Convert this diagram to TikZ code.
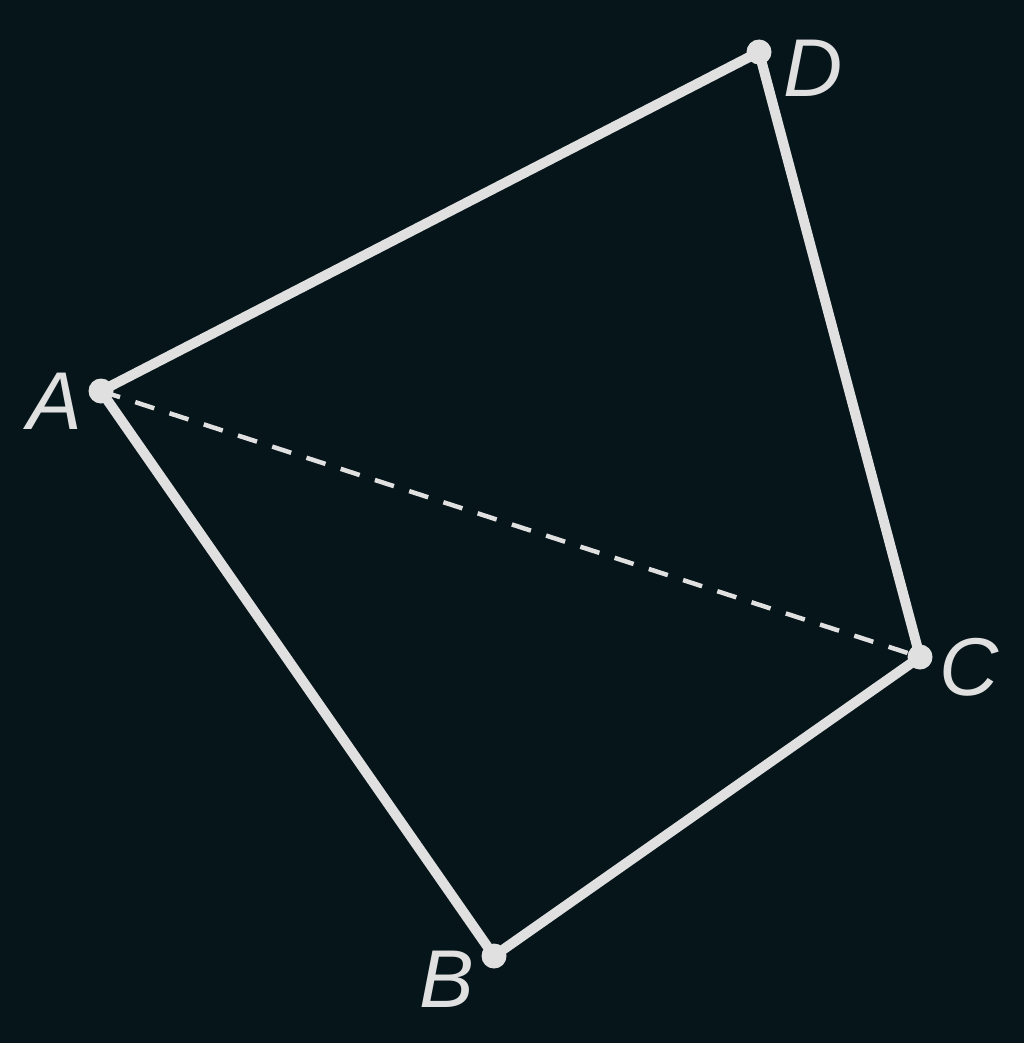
\documentclass[tikz,border=0pt]{standalone}
\usepackage{fontspec}
\setmainfont{Liberation Sans}
\definecolor{bg}{HTML}{06151A}
\definecolor{fg}{HTML}{E0E0E0}
\begin{document}
\begin{tikzpicture}[x=1pt,y=-1pt,
  edge/.style={draw=fg,line width=10pt,line cap=round,line join=round},
  hid/.style={draw=fg,line width=4.5pt,dash pattern=on 20pt off 16pt},
  pt/.style={circle,fill=fg,inner sep=0pt,minimum size=25pt},
  lab/.style={text=fg,font=\fontsize{82}{82}\selectfont\itshape,inner sep=0pt}]
\fill[bg] (0,0) rectangle (1024,1043);
\useasboundingbox (0,0) rectangle (1024,1043);
\coordinate (A) at (101,391);
\coordinate (D) at (759,52);
\coordinate (C) at (920,657);
\coordinate (B) at (494,956);
\draw[hid] (A) -- (C);
\draw[edge] (B) -- (A) -- (D) -- (C) -- (B);
\node[pt] (pA) at (A) {};
\node[pt] (pD) at (D) {};
\node[pt] (pC) at (C) {};
\node[pt] (pB) at (B) {};
\node[lab] (lA) at (55,401) {A};
\node[lab] (lD) at (813,68) {D};
\node[lab] (lC) at (969,667) {C};
\node[lab] (lB) at (447,979) {B};
\end{tikzpicture}
\end{document}
